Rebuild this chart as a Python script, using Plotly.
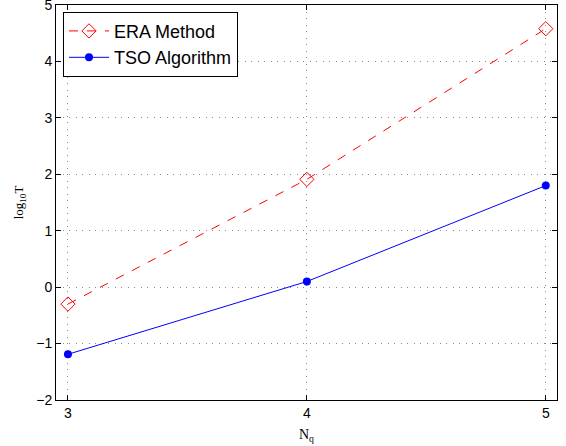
import plotly.graph_objects as go

nq = [3, 4, 5]
era = [-0.30, 1.91, 4.58]
tso = [-1.19, 0.10, 1.80]
x_ticks = [3, 4, 5]
y_ticks = [-2, -1, 0, 1, 2, 3, 4, 5]

fig = go.Figure()
fig.add_trace(go.Scatter(x=nq, y=era, mode="lines+markers", name="ERA Method",
                         line=dict(color="red", width=1, dash="dash"),
                         marker=dict(symbol="diamond-open", size=11, color="red", line=dict(width=1))))
fig.add_trace(go.Scatter(x=nq, y=tso, mode="lines+markers", name="TSO Algorithm",
                         line=dict(color="blue", width=1),
                         marker=dict(symbol="circle", size=8, color="blue")))

axis_common = dict(showline=True, linecolor="black", linewidth=1, mirror="ticks",
                   ticks="inside", ticklen=5, tickcolor="black",
                   showgrid=True, gridcolor="#8a8a8a", griddash="1px,5.5px", gridwidth=1,
                   zeroline=False, automargin=False, ticklabeloverflow="allow",
                   tickfont=dict(family="Liberation Sans, Arial", size=14, color="black"))

fig.update_layout(
    width=566, height=446,
    margin=dict(l=56, r=9, t=5, b=46),
    plot_bgcolor="white", paper_bgcolor="white",
    xaxis=dict(range=[2.95, 5.047], tickvals=x_ticks,
               title=dict(text="N<sub>q</sub>", font=dict(family="Liberation Serif, Times New Roman", size=14, color="black"), standoff=9),
               **axis_common),
    yaxis=dict(range=[-2, 5], tickvals=y_ticks,
               title=dict(text="log<sub>10</sub>T", font=dict(family="Liberation Serif, Times New Roman", size=13, color="black"), standoff=9),
               **axis_common),
    legend=dict(x=0.014, y=0.983, xanchor="left", yanchor="top",
                bgcolor="white", bordercolor="black", borderwidth=1,
                font=dict(family="Liberation Sans, Arial", size=18, color="black"),
                tracegroupgap=0, itemwidth=40),
    showlegend=True,
)

fig.write_html("out.html", config={"displayModeBar": False},
               post_script="document.body.style.margin='0px';")
